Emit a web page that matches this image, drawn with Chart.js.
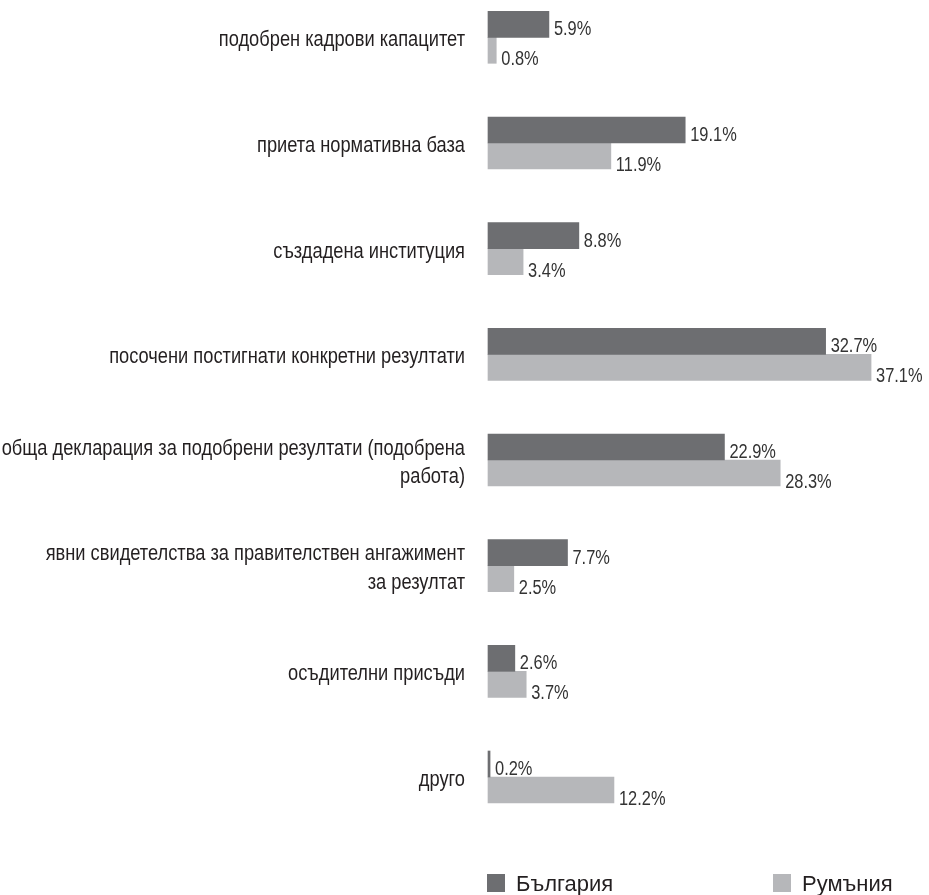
<!DOCTYPE html>
<html lang="bg">
<head>
<meta charset="utf-8">
<title>Резултати</title>
<script src="https://cdn.jsdelivr.net/npm/chart.js@4/dist/chart.umd.min.js"></script>
<style>
  html, body { margin: 0; padding: 0; background: #ffffff; }
  #wrap { position: relative; width: 929px; height: 895px; }
</style>
</head>
<body>
<div id="wrap"><canvas id="chart"></canvas></div>
<script>
// Категории (многоредовите етикети са масиви от редове)
const categories = [
  'подобрен кадрови капацитет',
  'приета нормативна база',
  'създадена институция',
  'посочени постигнати конкретни резултати',
  ['обща декларация за подобрени резултати (подобрена', 'работа)'],
  ['явни свидетелства за правителствен ангажимент', 'за резултат'],
  'осъдителни присъди',
  'друго'
];

const seriesNames = ['България', 'Румъния'];

// Дялове в проценти
const bulgaria = [5.9, 19.1, 8.8, 32.7, 22.9, 7.7, 2.6, 0.2];
const romania  = [0.8, 11.9, 3.4, 37.1, 28.3, 2.5, 3.7, 12.2];

const seriesColors = ['#6d6e71', '#b6b7ba'];

const sansFont = "'Liberation Sans', Arial, Helvetica, sans-serif";
// Тесен шрифт: Liberation Sans, свит хоризонтално
const NARROW_VALUES = 0.82;
const NARROW_TICKS = 0.83;

// Етикетите на категориите се рисуват от оста, но свити по ширина
const narrowTicks = {
  id: 'narrowTicks',
  afterLayout(chart) {
    const scale = chart.scales.y;
    if (scale._narrowed) return;
    const base = scale.drawLabels;
    const baseArea = scale._computeLabelArea;
    // по-широка област за изрязване, за да се съберат дългите етикети
    scale._computeLabelArea = function () {
      const a = baseArea.call(this);
      if (a) a.left = this.left - (this.right - this.left);
      return a;
    };
    scale.drawLabels = function (area) {
      const ctx = this.ctx;
      const ax = this.right - this.options.ticks.padding;
      ctx.save();
      ctx.translate(ax, 0);
      ctx.scale(NARROW_TICKS, 1);
      ctx.translate(-ax, 0);
      base.call(this, area);
      ctx.restore();
    };
    scale._narrowed = true;
  }
};

// Стойностите вдясно от всяка лента
const valueLabels = {
  id: 'valueLabels',
  afterDatasetsDraw(chart, args, opts) {
    const ctx = chart.ctx;
    ctx.save();
    ctx.font = opts.font;
    ctx.fillStyle = opts.color;
    ctx.textAlign = 'left';
    ctx.textBaseline = 'alphabetic';
    chart.data.datasets.forEach((ds, di) => {
      const meta = chart.getDatasetMeta(di);
      meta.data.forEach((bar, i) => {
        const v = ds.data[i];
        ctx.save();
        ctx.translate(bar.x + opts.gap, bar.y + opts.baselineShift[di]);
        ctx.scale(NARROW_VALUES, 1);
        ctx.fillText(v.toFixed(1) + '%', 0, 0);
        ctx.restore();
      });
    });
    ctx.restore();
  }
};

// Легенда под графиката
const bottomLegend = {
  id: 'bottomLegend',
  afterDraw(chart, args, opts) {
    const ctx = chart.ctx;
    ctx.save();
    ctx.font = opts.font;
    ctx.textAlign = 'left';
    ctx.textBaseline = 'alphabetic';
    chart.data.datasets.forEach((ds, di) => {
      const x = opts.x[di];
      ctx.fillStyle = ds.backgroundColor;
      ctx.fillRect(x, opts.boxTop, opts.boxSize, opts.boxSize);
      ctx.fillStyle = opts.color;
      ctx.fillText(ds.label, x + opts.boxSize + opts.textGap, opts.baseline);
    });
    ctx.restore();
  }
};

new Chart(document.getElementById('chart'), {
  type: 'bar',
  data: {
    labels: categories,
    datasets: [
      { label: seriesNames[0], data: bulgaria, backgroundColor: seriesColors[0] },
      { label: seriesNames[1], data: romania, backgroundColor: seriesColors[1] }
    ]
  },
  options: {
    indexAxis: 'y',
    responsive: true,
    maintainAspectRatio: false,
    animation: false,
    layout: { padding: { top: 35, right: 28, bottom: 118, left: 0 } },
    datasets: {
      bar: { barThickness: 26, borderWidth: 0, clip: false }
    },
    scales: {
      x: {
        display: false,
        min: 0,
        max: 40
      },
      y: {
        offset: false,
        grid: { display: false, drawTicks: false },
        border: { display: false },
        afterFit(scale) { scale.width = 488; },
        ticks: {
          padding: 23,
          labelOffset: 3,
          color: '#231f20',
          autoSkip: false,
          font: { family: sansFont, size: 22, lineHeight: 1.3 }
        }
      }
    },
    plugins: {
      legend: { display: false },
      tooltip: { enabled: false },
      valueLabels: {
        font: '20px ' + sansFont,
        color: '#333333',
        gap: 5,
        baselineShift: [11, 15]
      },
      bottomLegend: {
        font: '22px ' + sansFont,
        color: '#231f20',
        x: [487, 773],
        boxTop: 874,
        boxSize: 18,
        textGap: 11,
        baseline: 891
      }
    }
  },
  plugins: [narrowTicks, valueLabels, bottomLegend]
});
</script>
</body>
</html>
